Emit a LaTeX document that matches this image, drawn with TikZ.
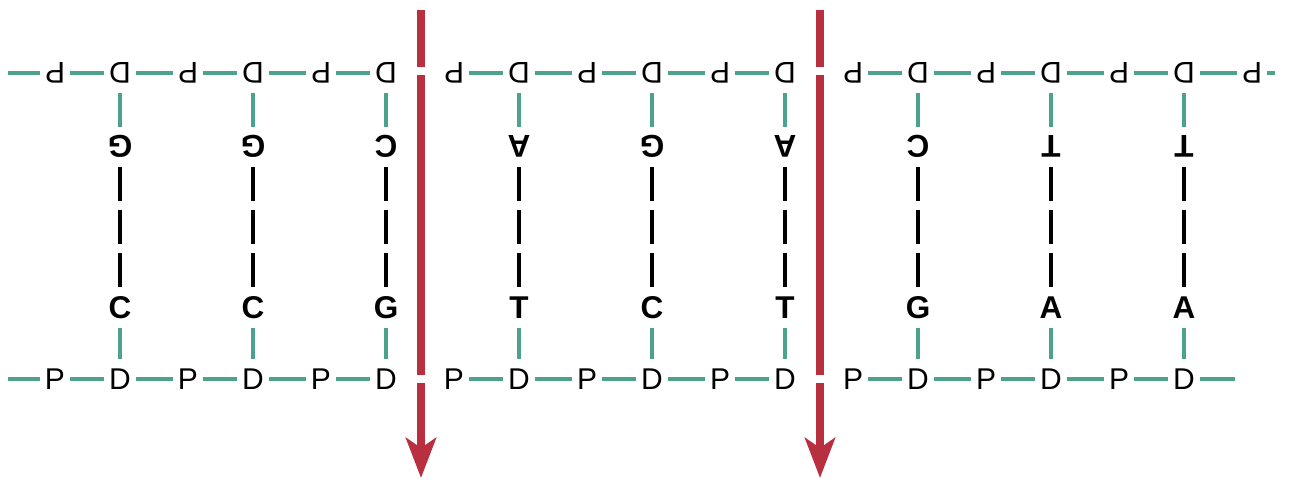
\documentclass[tikz,border=0pt]{standalone}
\usepackage{fontspec}
\setmainfont{Liberation Sans}
\usetikzlibrary{arrows.meta}
\definecolor{bondteal}{HTML}{4CA28D}
\definecolor{cutred}{HTML}{B8303F}
\begin{document}
\begin{tikzpicture}[x=1pt,y=-1pt,
  bb/.style={inner xsep=5pt, inner ysep=0pt, text height=21.5pt, text depth=0pt,
             font=\fontsize{30}{30}\selectfont},
  flipped/.style={bb, rotate=180},
  basebox/.style={bb, text height=22.5pt, font=\fontsize{31.5}{31.5}\selectfont\bfseries},
  flippedbase/.style={basebox, rotate=180},
  bond/.style={bondteal, line width=4pt},
  vbond/.style={bond, shorten <=9.5pt, shorten >=9pt},
  hbond/.style={black, line width=3.5pt, dash pattern=on 34pt off 9pt, shorten <=8.5pt, shorten >=8.5pt},
  cut/.style={cutred, line width=8pt}]
\useasboundingbox (0,0) rectangle (1299,482);

% backbone nodes
\foreach \i in {1,...,9} {
  \pgfmathsetmacro{\xd}{120+133*(\i-1)}
  \pgfmathsetmacro{\xp}{55+133*(\i-1)}
  \node[flipped] (tD\i) at (\xd,73) {D};
  \node[flipped] (tP\i) at (\xp,73) {P};
  \node[bb] (bD\i) at (\xd,379) {D};
  \node[bb] (bP\i) at (\xp,379) {P};
}
\node[flipped] (tP10) at (1252,73) {P};

% bases
\foreach \t/\b [count=\i] in {G/C,G/C,C/G,A/T,G/C,A/T,C/G,T/A,T/A} {
  \pgfmathsetmacro{\xd}{120+133*(\i-1)}
  \node[flippedbase] (tB\i) at (\xd,147) {\t};
  \node[basebox] (bB\i) at (\xd,307) {\b};
}

% free ends
\coordinate (tl) at (8,73);
\coordinate (tr) at (1275,73);
\coordinate (bl) at (8,379);
\coordinate (br) at (1235,379);

% horizontal backbone bonds
\foreach \i in {1,...,9} {
  \draw[bond] (tP\i) -- (tD\i);
  \draw[bond] (bP\i) -- (bD\i);
}
\foreach \i/\j in {1/2,2/3,4/5,5/6,7/8,8/9,9/10} {
  \draw[bond] (tD\i) -- (tP\j);
}
\foreach \i/\j in {1/2,2/3,4/5,5/6,7/8,8/9} {
  \draw[bond] (bD\i) -- (bP\j);
}
\draw[bond] (tl) -- (tP1);
\draw[bond] (tP10) -- (tr);
\draw[bond] (bl) -- (bP1);
\draw[bond] (bD9) -- (br);

% base connections
\foreach \i in {1,...,9} {
  \draw[vbond] (tD\i) -- (tB\i);
  \draw[vbond] (bB\i) -- (bD\i);
  \draw[hbond] (tB\i) -- (bB\i);
}

% cut arrows
\foreach \n/\x in {1/421,2/820} {
  \coordinate (c\n a) at (\x,10);
  \coordinate (c\n b) at (\x,67);
  \coordinate (c\n c) at (\x,75);
  \coordinate (c\n d) at (\x,375);
  \coordinate (c\n e) at (\x,383);
  \coordinate (c\n f) at (\x,478);
  \draw[cut] (c\n a) -- (c\n b);
  \draw[cut] (c\n c) -- (c\n d);
  \draw[cut, -{Stealth[length=40pt,width=30pt,inset=10pt]}] (c\n e) -- (c\n f);
}
\end{tikzpicture}
\end{document}
